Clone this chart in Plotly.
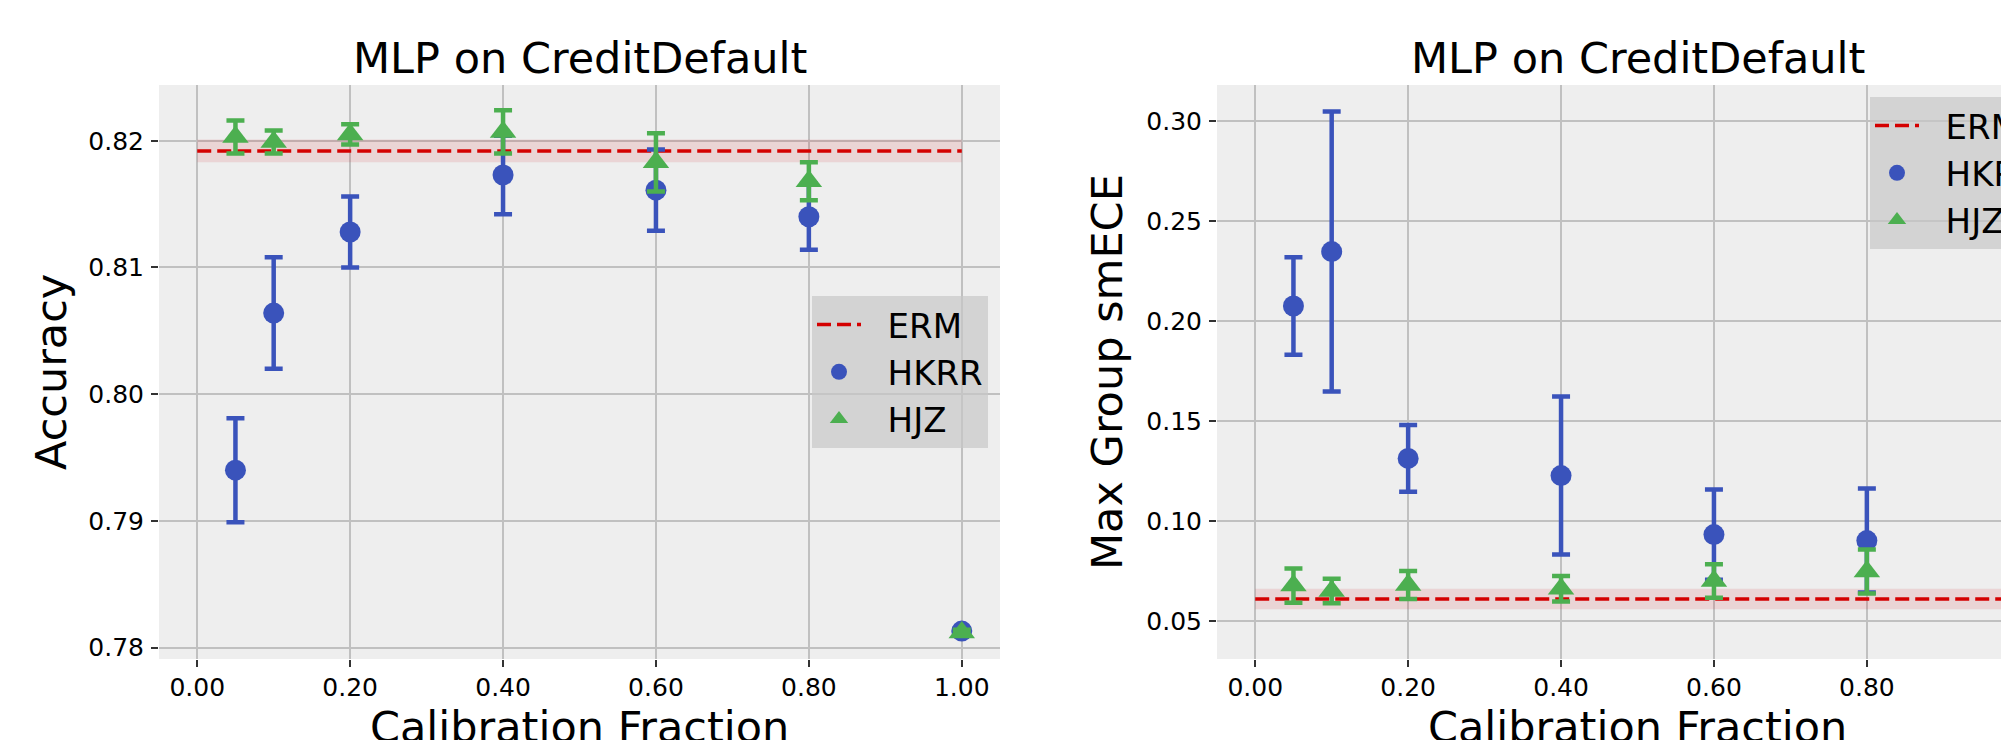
import plotly.graph_objects as go

# ---------------- data ----------------
fractions = [0.05, 0.1, 0.2, 0.4, 0.6, 0.8, 1.0]

acc_hkrr = [0.7940, 0.8064, 0.8128, 0.8173, 0.8161, 0.8140, 0.7813]
acc_hkrr_err = [0.0041, 0.0044, 0.0028, 0.0031, 0.0032, 0.0026, 0.0002]
acc_hjz = [0.8203, 0.8199, 0.8205, 0.8207, 0.8183, 0.8168, 0.7812]
acc_hjz_err = [0.0013, 0.0009, 0.0008, 0.0017, 0.0023, 0.0015, 0.0002]
acc_erm = 0.8192
acc_erm_std = 0.0009

ece_hkrr = [0.2075, 0.2347, 0.1313, 0.1227, 0.0932, 0.0902, None]
ece_hkrr_err = [0.0244, 0.0700, 0.0167, 0.0395, 0.0226, 0.0260, None]
ece_hjz = [0.0677, 0.0650, 0.0680, 0.0661, 0.0700, 0.0748, None]
ece_hjz_err = [0.0086, 0.0061, 0.0070, 0.0064, 0.0084, 0.0110, None]
ece_erm = 0.0610
ece_erm_std = 0.0051

erm_span = [0.0, 1.0]
x_ticks = [0.0, 0.2, 0.4, 0.6, 0.8, 1.0]
acc_ticks = [0.78, 0.79, 0.80, 0.81, 0.82]
ece_ticks = [0.05, 0.10, 0.15, 0.20, 0.25, 0.30]

title_text = "MLP on CreditDefault"
x_title = "Calibration Fraction"
y_titles = ["Accuracy", "Max Group smECE"]
series_names = ["ERM", "HKRR", "HJZ"]

# ---------------- style ----------------
W, H = 2001, 740
FONT = "DejaVu Sans"
BLUE = "#3A53BB"
GREEN = "#4CAF50"
RED = "#D40000"
BAND = "rgba(205,40,50,0.13)"
GRID = "#c0c0c0"
PAD = "\u00a0\u00a0"

def px_x(p):
    return p / W

def px_y(p):
    return (H - p) / H

top_px, bot_px = 85, 659
ydom = [px_y(bot_px), px_y(top_px)]
left_dom = [px_x(159), px_x(1000)]
right_dom = [px_x(1217), 1.0]
scale = (1000 - 159) / 1.1  # px per unit x
right_xmax = -0.05 + (W - 1217) / scale

fig = go.Figure()

def add_panel(xa, ya, legend, erm, erm_std, hkrr, hkrr_err, hjz, hjz_err):
    lo = erm - erm_std
    hi = erm + erm_std
    fig.add_trace(go.Scatter(
        x=[erm_span[0], erm_span[1], erm_span[1], erm_span[0]],
        y=[lo, lo, hi, hi], fill="toself", fillcolor=BAND,
        line=dict(width=0), mode="lines", showlegend=False,
        hoverinfo="skip", xaxis=xa, yaxis=ya))
    fig.add_trace(go.Scatter(
        x=erm_span, y=[erm, erm], mode="lines", name=PAD + series_names[0],
        line=dict(color=RED, width=3.5, dash="14px,6px"),
        xaxis=xa, yaxis=ya, legend=legend))
    fig.add_trace(go.Scatter(
        x=fractions, y=hkrr, mode="markers", name=PAD + series_names[1],
        marker=dict(color=BLUE, size=21, symbol="circle"),
        error_y=dict(type="data", array=hkrr_err, visible=True,
                     color=BLUE, thickness=4.5, width=9),
        xaxis=xa, yaxis=ya, legend=legend))
    fig.add_trace(go.Scatter(
        x=fractions, y=hjz, mode="markers", name=PAD + series_names[2],
        marker=dict(color=GREEN, size=23, symbol="triangle-up"),
        error_y=dict(type="data", array=hjz_err, visible=True,
                     color=GREEN, thickness=4.5, width=9),
        xaxis=xa, yaxis=ya, legend=legend))

add_panel("x", "y", "legend", acc_erm, acc_erm_std, acc_hkrr, acc_hkrr_err, acc_hjz, acc_hjz_err)
add_panel("x2", "y2", "legend2", ece_erm, ece_erm_std, ece_hkrr, ece_hkrr_err, ece_hjz, ece_hjz_err)

axis_common = dict(
    showgrid=True, gridcolor=GRID, gridwidth=1.5, zeroline=False,
    showline=False, ticks="outside", ticklen=7, tickwidth=1.5,
    tickcolor="#333333", tickfont=dict(family=FONT, size=25, color="black"),
    automargin=False, tickformat=".2f",
)

XSO, YSO = -1, 2

fig.update_layout(
    width=W, height=H,
    margin=dict(l=0, r=0, t=0, b=0, autoexpand=False),
    paper_bgcolor="white", plot_bgcolor="#eeeeee",
    font=dict(family=FONT, color="black"),
    xaxis=dict(domain=left_dom, range=[-0.05, 1.05], tickvals=x_ticks,
               anchor="y", ticklabelstandoff=XSO, **axis_common),
    yaxis=dict(domain=ydom, range=[0.7791, 0.8244], tickvals=acc_ticks,
               anchor="x", ticklabelstandoff=YSO, **axis_common),
    xaxis2=dict(domain=right_dom, range=[-0.05, right_xmax], tickvals=x_ticks,
                anchor="y2", ticklabelstandoff=XSO, **axis_common),
    yaxis2=dict(domain=ydom, range=[0.031, 0.318], tickvals=ece_ticks,
                anchor="x2", ticklabelstandoff=YSO, **axis_common),
    legend=dict(x=px_x(988), y=px_y(372), xanchor="right", yanchor="middle",
                bgcolor="rgba(200,200,200,0.7)", borderwidth=0,
                font=dict(family=FONT, size=34, color="black"),
                itemwidth=44, tracegroupgap=0),
    legend2=dict(x=px_x(1870), y=px_y(97), xanchor="left", yanchor="top",
                 bgcolor="rgba(200,200,200,0.7)", borderwidth=0,
                 font=dict(family=FONT, size=34, color="black"),
                 itemwidth=44, tracegroupgap=0),
    showlegend=True,
)

ann_font = dict(family=FONT, size=43, color="black")
centers = [(159 + 1000) / 2, (1217 + 1217 + 841) / 2]
for i, c in enumerate(centers):
    fig.add_annotation(text=title_text, x=px_x(c), y=px_y(58), xref="paper", yref="paper",
                       xanchor="center", yanchor="middle", showarrow=False, font=ann_font)
    fig.add_annotation(text=x_title, x=px_x(c), y=px_y(727), xref="paper", yref="paper",
                       xanchor="center", yanchor="middle", showarrow=False, font=ann_font)
y_title_x = [51, 1107]
for i, t in enumerate(y_titles):
    fig.add_annotation(text=t, x=px_x(y_title_x[i]), y=px_y(372), xref="paper", yref="paper",
                       xanchor="center", yanchor="middle", textangle=-90, showarrow=False,
                       font=ann_font)

fig.write_html("out.html", config={"displayModeBar": False},
               post_script="document.body.style.margin='0px';document.body.style.overflow='hidden';")
